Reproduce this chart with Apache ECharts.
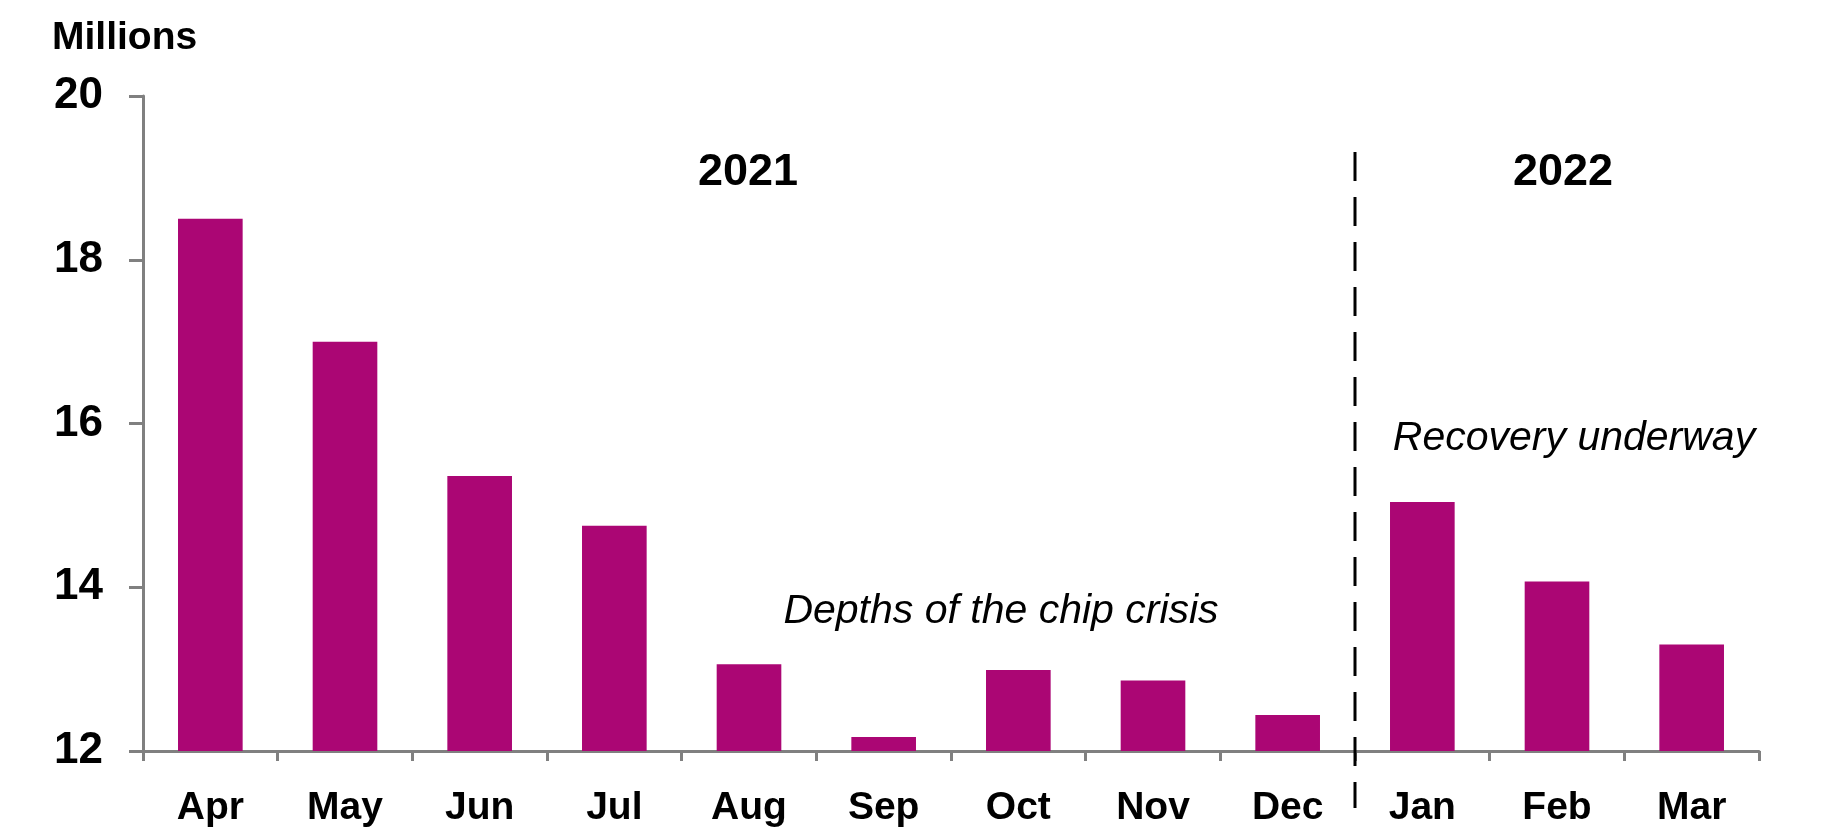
<!DOCTYPE html>
<html><head><meta charset="utf-8">
<script src="https://cdn.jsdelivr.net/npm/echarts@6/dist/echarts.min.js"></script>
<style>html,body{margin:0;padding:0;background:#fff}#c{width:1834px;height:833px}</style>
</head><body><div id="c"></div>
<script>
const categories = ['Apr','May','Jun','Jul','Aug','Sep','Oct','Nov','Dec','Jan','Feb','Mar'];
const values = [18.5, 17.0, 15.36, 14.75, 13.06, 12.17, 12.99, 12.86, 12.44, 15.04, 14.07, 13.3];
const yTickLabels = ['12','14','16','18','20'];
const unitLabel = 'Millions';
const yearLabels = ['2021','2022'];
const notes = ['Depths of the chip crisis','Recovery underway'];

const FONT = "'Liberation Sans', Arial, sans-serif";
const chart = echarts.init(document.getElementById('c'));
const option = {
  animation: false,
  backgroundColor: '#ffffff',
  grid: { left: 143, right: 75, top: 96, bottom: 82, containLabel: false },
  xAxis: {
    type: 'category',
    data: categories,
    boundaryGap: true,
    axisLine: { show: true, lineStyle: { color: '#808080', width: 3 } },
    axisTick: { show: true, length: 10, lineStyle: { color: '#808080', width: 3 } },
    axisLabel: { color: '#000', fontFamily: FONT, fontWeight: 'bold', fontSize: 39, margin: 38 }
  },
  yAxis: {
    type: 'value',
    min: 12, max: 20, interval: 2,
    axisLine: { show: true, lineStyle: { color: '#808080', width: 3 } },
    axisTick: { show: true, length: 14, lineStyle: { color: '#808080', width: 3 } },
    splitLine: { show: false },
    axisLabel: { color: '#000', fontFamily: FONT, fontWeight: 'bold', fontSize: 44, margin: 40,
      formatter: v => yTickLabels[yTickLabels.indexOf(String(v))] || String(v) }
  },
  series: [{
    type: 'bar',
    data: values,
    barWidth: '48%',
    itemStyle: { color: '#AB0674' }
  }]
};
chart.setOption(option);

const cx = i => chart.convertToPixel({ xAxisIndex: 0 }, i);
const divider = (cx(8) + cx(9)) / 2;
const textStyleBold = { fill: '#000', font: "bold 45px " + FONT, textAlign: 'center', textVerticalAlign: 'middle' };
const textStyleItal = { fill: '#000', font: "italic 41px " + FONT, textAlign: 'center', textVerticalAlign: 'middle' };
chart.setOption({
  graphic: [
    { type: 'line', shape: { x1: divider, y1: 152, x2: divider, y2: 808 },
      style: { stroke: '#000', lineWidth: 3, lineDash: [29, 16] }, z: 10 },
    { type: 'text', x: 52, y: 38, style: { text: unitLabel, fill: '#000', font: "bold 39px " + FONT, textAlign: 'left', textVerticalAlign: 'middle' } },
    { type: 'text', x: 748, y: 173, style: Object.assign({ text: yearLabels[0] }, textStyleBold) },
    { type: 'text', x: 1563, y: 173, style: Object.assign({ text: yearLabels[1] }, textStyleBold) },
    { type: 'text', x: 1001, y: 612, style: Object.assign({ text: notes[0] }, textStyleItal) },
    { type: 'text', x: 1574, y: 439, style: Object.assign({ text: notes[1] }, textStyleItal) }
  ]
});
</script>
</body></html>
